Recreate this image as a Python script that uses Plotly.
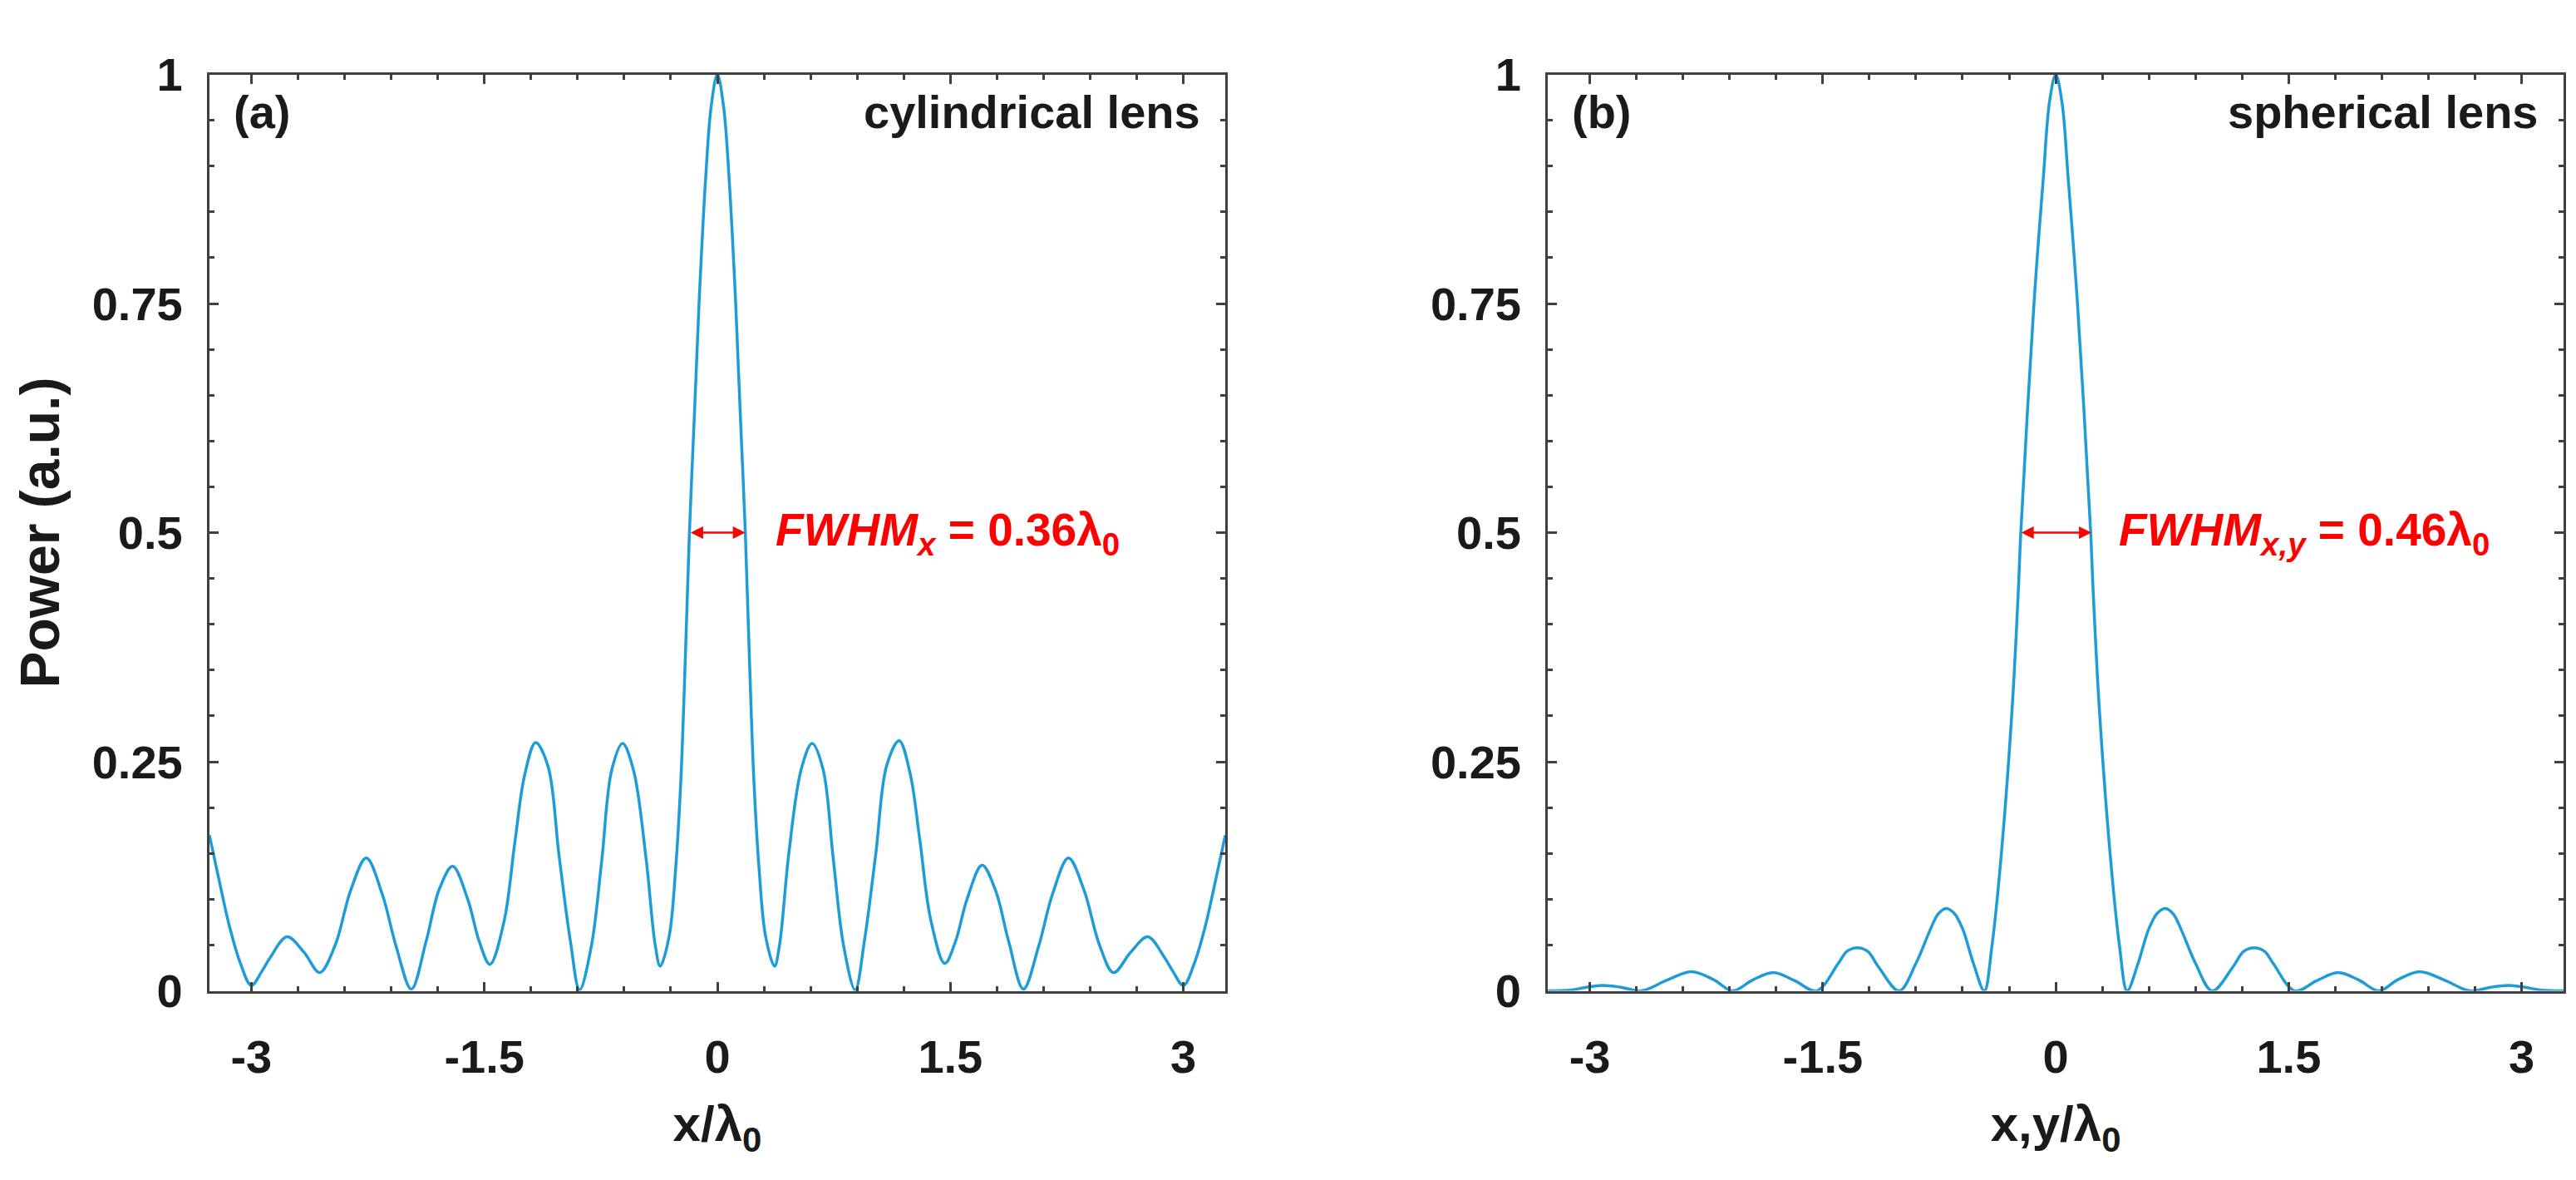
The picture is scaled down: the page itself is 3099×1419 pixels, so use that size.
import plotly.graph_objects as go

# values
# (a) cylindrical lens
cyl_x = [-3.27, -3.2, -3.14, -3.07, -3.0, -2.93, -2.88, -2.77, -2.66, -2.56, -2.46, -2.36,
         -2.26, -2.158, -2.067, -1.97, -1.875, -1.79, -1.704, -1.607, -1.533, -1.464,
         -1.373, -1.303, -1.24, -1.17, -1.09, -1.02, -0.946, -0.887, -0.812, -0.745,
         -0.68, -0.61, -0.54, -0.46, -0.40, -0.368, -0.31, -0.27, -0.235, -0.205, -0.18,
         -0.15, -0.118, -0.075, -0.04, 0.0,
         0.04, 0.075, 0.118, 0.15, 0.18, 0.205, 0.235, 0.27, 0.31, 0.368, 0.40, 0.46,
         0.54, 0.61, 0.68, 0.745, 0.812, 0.887, 0.946, 1.02, 1.09, 1.17, 1.24, 1.303,
         1.373, 1.464, 1.533, 1.607, 1.704, 1.79, 1.875, 1.97, 2.067, 2.158, 2.26, 2.36,
         2.46, 2.55, 2.66, 2.77, 2.88, 2.93, 3.0, 3.07, 3.14, 3.2, 3.27]
cyl_y = [0.170, 0.115, 0.070, 0.030, 0.006, 0.022, 0.036, 0.059, 0.042, 0.020, 0.050, 0.110,
         0.145, 0.106, 0.048, 0.002, 0.054, 0.111, 0.136, 0.100, 0.054, 0.029,
         0.076, 0.163, 0.236, 0.271, 0.245, 0.149, 0.054, 0.001, 0.048, 0.141,
         0.241, 0.270, 0.241, 0.146, 0.050, 0.027, 0.060, 0.130, 0.230, 0.370, 0.500,
         0.620, 0.750, 0.888, 0.965, 1.0,
         0.965, 0.888, 0.750, 0.620, 0.500, 0.370, 0.230, 0.130, 0.060, 0.027, 0.050, 0.150,
         0.242, 0.270, 0.242, 0.146, 0.050, 0.001, 0.054, 0.150, 0.246, 0.273, 0.238, 0.165,
         0.078, 0.030, 0.054, 0.100, 0.137, 0.110, 0.054, 0.002, 0.048, 0.106, 0.145, 0.110,
         0.050, 0.020, 0.042, 0.059, 0.036, 0.022, 0.006, 0.030, 0.070, 0.115, 0.170]

# (b) spherical lens
sph_x = [-3.27, -3.12, -3.02, -2.92, -2.8, -2.67, -2.5, -2.344, -2.2, -2.08, -1.95, -1.817,
         -1.68, -1.54, -1.4, -1.345, -1.278, -1.21, -1.14, -1.008, -0.9, -0.81, -0.757,
         -0.706, -0.655, -0.6, -0.53, -0.46, -0.41, -0.35, -0.28, -0.24, -0.225, -0.14,
         -0.08, -0.04, 0.0,
         0.04, 0.08, 0.14, 0.225, 0.24, 0.28, 0.35, 0.41, 0.46, 0.53, 0.6, 0.655, 0.706,
         0.757, 0.81, 0.9, 1.008, 1.14, 1.21, 1.278, 1.345, 1.4, 1.54, 1.68, 1.817, 1.95,
         2.08, 2.2, 2.344, 2.5, 2.67, 2.8, 2.92, 3.02, 3.12, 3.27]
sph_y = [0.000, 0.001, 0.004, 0.006, 0.004, 0.000, 0.012, 0.021, 0.012, 0.000, 0.012, 0.020,
         0.011, 0.000, 0.030, 0.043, 0.047, 0.043, 0.026, 0.000, 0.030, 0.066, 0.084,
         0.090, 0.085, 0.068, 0.030, 0.000, 0.050, 0.150, 0.310, 0.440, 0.500, 0.750,
         0.887, 0.970, 1.0,
         0.970, 0.887, 0.750, 0.500, 0.440, 0.310, 0.150, 0.050, 0.000, 0.030, 0.068, 0.085, 0.090,
         0.084, 0.066, 0.030, 0.000, 0.026, 0.043, 0.047, 0.043, 0.030, 0.000, 0.011, 0.020, 0.012,
         0.000, 0.012, 0.021, 0.012, 0.000, 0.004, 0.006, 0.004, 0.001, 0.000]

x_ticks = [-3, -1.5, 0, 1.5, 3]
x_ticktext = ["-3", "-1.5", "0", "1.5", "3"]
y_ticks = [0, 0.25, 0.5, 0.75, 1]
y_ticktext = ["0", "0.25", "0.5", "0.75", "1"]

fwhm_a = 0.36
fwhm_b = 0.46

FONT = "Liberation Sans, Arial, sans-serif"
BLUE = "#1e9cd7"
AX = "#404040"
TXT = "#1a1a1a"

fig = go.Figure()
fig.add_trace(go.Scatter(x=cyl_x, y=cyl_y, mode="lines", xaxis="x", yaxis="y",
                         line=dict(color=BLUE, width=3.5, shape="spline", smoothing=1.0),
                         showlegend=False))
fig.add_trace(go.Scatter(x=sph_x, y=sph_y, mode="lines", xaxis="x2", yaxis="y2",
                         line=dict(color=BLUE, width=3.5, shape="spline", smoothing=1.0),
                         showlegend=False))

def xaxis(domain, title, anchor):
    return dict(domain=domain, anchor=anchor, range=[-3.27, 3.27],
                tickvals=x_ticks, ticktext=x_ticktext,
                ticks="inside", ticklen=11, tickwidth=2.5, tickcolor=AX,
                showline=True, linecolor=AX, linewidth=3, mirror="ticks",
                showgrid=False, zeroline=False,
                minor=dict(ticks="inside", dtick=0.3, tick0=0, ticklen=6,
                           tickwidth=2.5, tickcolor=AX, showgrid=False),
                tickfont=dict(family=FONT, size=56, color=TXT, weight="bold"),
                ticklabelstandoff=28,
                title=dict(text=title, standoff=30,
                           font=dict(family=FONT, size=60, color=TXT, weight="bold")))

def yaxis(domain, title, anchor):
    return dict(domain=domain, anchor=anchor, range=[0, 1],
                tickvals=y_ticks, ticktext=y_ticktext,
                ticks="inside", ticklen=11, tickwidth=2.5, tickcolor=AX,
                showline=True, linecolor=AX, linewidth=3, mirror="ticks",
                showgrid=False, zeroline=False,
                minor=dict(ticks="inside", dtick=0.05, tick0=0, ticklen=6,
                           tickwidth=2.5, tickcolor=AX, showgrid=False),
                tickfont=dict(family=FONT, size=56, color=TXT, weight="bold"),
                ticklabelstandoff=18,
                title=dict(text=title, standoff=18,
                           font=dict(family=FONT, size=66, color=TXT, weight="bold")))

ydom = [0.150, 0.9627]
fig.update_layout(
    width=3099, height=1419,
    margin=dict(l=0, r=0, t=0, b=0),
    paper_bgcolor="white", plot_bgcolor="white",
    xaxis=xaxis([0.0787, 0.4731], "x/λ<sub>0</sub>", "y"),
    yaxis=yaxis(ydom, "Power (a.u.)", "x"),
    xaxis2=xaxis([0.5983, 0.9926], "x,y/λ<sub>0</sub>", "y2"),
    yaxis2=yaxis(ydom, "", "x2"),
)

label_font = dict(family=FONT, size=56, color=TXT, weight="bold")
red_font = dict(family=FONT, size=55, color="#ff0000", weight="bold")

for xr, yr, tag, name in [("x domain", "y domain", "(a)", "cylindrical lens"),
                          ("x2 domain", "y2 domain", "(b)", "spherical lens")]:
    fig.add_annotation(xref=xr, yref=yr, x=0.022, y=0.99, xanchor="left", yanchor="top",
                       text=tag, showarrow=False, font=label_font)
    fig.add_annotation(xref=xr, yref=yr, x=0.977, y=0.99, xanchor="right", yanchor="top",
                       text=name, showarrow=False, font=label_font)

for xr, yr, w, txt, tx in [("x", "y", fwhm_a, "<i>FWHM<sub>x</sub></i> = 0.36λ<sub>0</sub>", 0.363),
                           ("x2", "y2", fwhm_b, "<i>FWHM<sub>x,y</sub></i> = 0.46λ<sub>0</sub>", 0.396)]:
    fig.add_annotation(xref=xr, yref=yr, x=w / 2, y=0.5, ax=-w / 2, ay=0.5,
                       axref=xr, ayref=yr, text="", showarrow=True,
                       arrowside="end+start", arrowhead=2, arrowsize=1.2,
                       arrowwidth=2.5, arrowcolor="#ff0000", standoff=0, startstandoff=0)
    fig.add_annotation(xref=xr, yref=yr, x=tx, y=0.5, xanchor="left", yanchor="middle",
                       text=txt, showarrow=False, font=red_font)

fig.write_html("out.html")
